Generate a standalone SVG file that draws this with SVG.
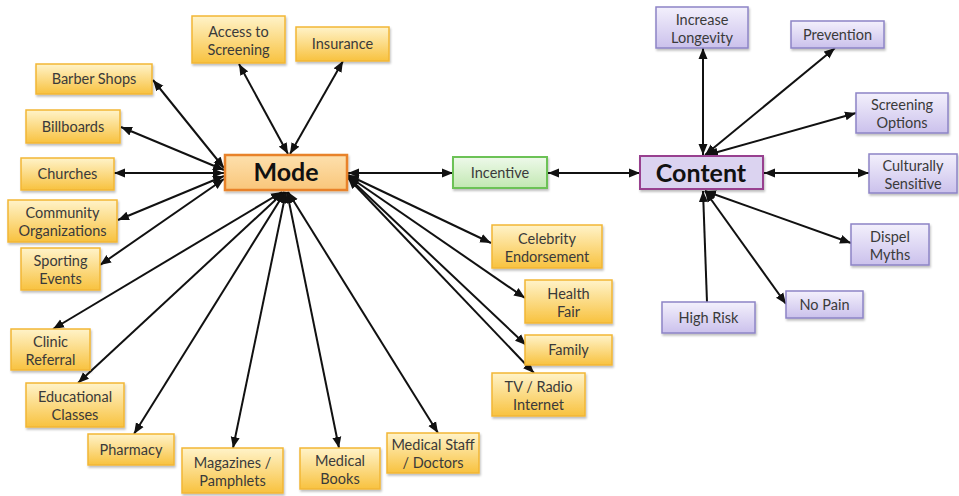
<svg xmlns="http://www.w3.org/2000/svg" width="959" height="496" viewBox="0 0 959 496">
<defs>
<linearGradient id="gy" x1="0" y1="0" x2="0" y2="1"><stop offset="0" stop-color="#fff3c9"/><stop offset="1" stop-color="#f8c23f"/></linearGradient>
<linearGradient id="gm" x1="0" y1="0" x2="0" y2="1"><stop offset="0" stop-color="#fde0ad"/><stop offset="1" stop-color="#f9c67a"/></linearGradient>
<linearGradient id="gg" x1="0" y1="0" x2="0" y2="1"><stop offset="0" stop-color="#eef9ea"/><stop offset="1" stop-color="#c2e8b2"/></linearGradient>
<linearGradient id="gp" x1="0" y1="0" x2="0" y2="1"><stop offset="0" stop-color="#f3f0fc"/><stop offset="1" stop-color="#cbc1ec"/></linearGradient>
<filter id="sh" x="-10%" y="-10%" width="130%" height="140%"><feDropShadow dx="1" dy="2" stdDeviation="1.2" flood-color="#000" flood-opacity="0.25"/></filter>
<marker id="ah" markerUnits="userSpaceOnUse" markerWidth="12" markerHeight="10" refX="11" refY="5" orient="auto-start-reverse"><path d="M0,0.5 L11,5 L0,9.5 z" fill="#111"/></marker>
</defs>
<style>
.y{fill:url(#gy);stroke:#f2b634;stroke-width:1.5;filter:url(#sh)}
.p{fill:url(#gp);stroke:#8d84c6;stroke-width:1.5;filter:url(#sh)}
.t{font-family:Lato,"Liberation Sans",sans-serif;font-size:14.5px;fill:#3a3a3a;text-anchor:middle}
.big{font-family:Lato,"Liberation Sans",sans-serif;font-size:25px;font-weight:bold;fill:#111;text-anchor:middle}
.c line{stroke:#111;stroke-width:2;marker-start:url(#ah);marker-end:url(#ah)}
</style>
<rect width="959" height="496" fill="#fff"/>
<g class="c" id="connectors">
<line x1="288" y1="154" x2="239" y2="64"/>
<line x1="290" y1="154" x2="343" y2="61"/>
<line x1="224" y1="168" x2="153" y2="80"/>
<line x1="224" y1="170" x2="121" y2="127"/>
<line x1="224" y1="173" x2="114" y2="173"/>
<line x1="224" y1="176" x2="118" y2="220"/>
<line x1="224" y1="179" x2="100" y2="265"/>
<line x1="282" y1="192" x2="53" y2="329"/>
<line x1="284" y1="192" x2="78" y2="383"/>
<line x1="285" y1="192" x2="134" y2="434"/>
<line x1="286" y1="192" x2="233" y2="448"/>
<line x1="287" y1="192" x2="339" y2="448"/>
<line x1="288" y1="192" x2="438" y2="433"/>
<line x1="348" y1="173" x2="453" y2="173"/>
<line x1="348" y1="175" x2="491" y2="243"/>
<line x1="348" y1="176" x2="525" y2="298"/>
<line x1="348" y1="177" x2="526" y2="345"/>
<line x1="348" y1="178" x2="534" y2="373"/>
<line x1="548" y1="173" x2="640" y2="173"/>
<line x1="764" y1="173" x2="869" y2="173"/>
<line x1="703" y1="155" x2="703" y2="48"/>
<line x1="705" y1="155" x2="835" y2="48"/>
<line x1="707" y1="155" x2="856" y2="113"/>
<line x1="705" y1="191" x2="851" y2="243"/>
<line x1="705" y1="191" x2="786" y2="304"/>
<line x1="707" y1="302" x2="703" y2="191" style="marker-start:none"/>
</g>
<g id="mode"><rect x="225" y="155" width="122" height="35" fill="url(#gm)" stroke="#e8822a" stroke-width="2.5" filter="url(#sh)"/><text class="big" x="286" y="181">Mode</text></g>
<g id="incentive"><rect x="453" y="157" width="94" height="31" fill="url(#gg)" stroke="#6cc256" stroke-width="2" filter="url(#sh)"/><text class="t" x="500" y="178">Incentive</text></g>
<g id="content"><rect x="640" y="156" width="123" height="33" fill="#dbd3f0" stroke="#98408f" stroke-width="2" filter="url(#sh)"/><text class="big" x="701" y="182">Content</text></g>
<g id="access"><rect class="y" x="192" y="16" width="93" height="47"/><text class="t" x="238.5" y="37">Access to</text><text class="t" x="238.5" y="55">Screening</text></g>
<g id="insurance"><rect class="y" x="296" y="27" width="93" height="34"/><text class="t" x="342.5" y="49">Insurance</text></g>
<g id="barber"><rect class="y" x="36" y="64" width="116" height="30"/><text class="t" x="94" y="84">Barber Shops</text></g>
<g id="billboards"><rect class="y" x="26" y="110" width="94" height="33"/><text class="t" x="73" y="131.5">Billboards</text></g>
<g id="churches"><rect class="y" x="21" y="158" width="93" height="32"/><text class="t" x="67.5" y="179">Churches</text></g>
<g id="community"><rect class="y" x="8" y="200" width="109" height="42"/><text class="t" x="62.5" y="218">Community</text><text class="t" x="62.5" y="236">Organizations</text></g>
<g id="sporting"><rect class="y" x="21" y="248" width="79" height="42"/><text class="t" x="60.5" y="266">Sporting</text><text class="t" x="60.5" y="284">Events</text></g>
<g id="clinic"><rect class="y" x="11" y="329" width="79" height="41"/><text class="t" x="50.5" y="346.5">Clinic</text><text class="t" x="50.5" y="364.5">Referral</text></g>
<g id="educational"><rect class="y" x="26" y="383" width="98" height="44"/><text class="t" x="75" y="402">Educational</text><text class="t" x="75" y="420">Classes</text></g>
<g id="pharmacy"><rect class="y" x="88" y="434" width="86" height="31"/><text class="t" x="131" y="454.5">Pharmacy</text></g>
<g id="magazines"><rect class="y" x="182" y="448" width="101" height="45"/><text class="t" x="232.5" y="467.5">Magazines /</text><text class="t" x="232.5" y="485.5">Pamphlets</text></g>
<g id="medbooks"><rect class="y" x="300" y="448" width="80" height="41"/><text class="t" x="340" y="465.5">Medical</text><text class="t" x="340" y="483.5">Books</text></g>
<g id="medstaff"><rect class="y" x="387" y="433" width="92" height="40"/><text class="t" x="433" y="450">Medical Staff</text><text class="t" x="433" y="468">/ Doctors</text></g>
<g id="celebrity"><rect class="y" x="492" y="225" width="110" height="43"/><text class="t" x="547" y="243.5">Celebrity</text><text class="t" x="547" y="261.5">Endorsement</text></g>
<g id="healthfair"><rect class="y" x="525" y="280" width="87" height="43"/><text class="t" x="568.5" y="298.5">Health</text><text class="t" x="568.5" y="316.5">Fair</text></g>
<g id="family"><rect class="y" x="525" y="335" width="87" height="30"/><text class="t" x="568.5" y="355">Family</text></g>
<g id="tv"><rect class="y" x="492" y="373" width="93" height="43"/><text class="t" x="538.5" y="391.5">TV / Radio</text><text class="t" x="538.5" y="409.5">Internet</text></g>
<g id="longevity"><rect class="p" x="656" y="7" width="92" height="41"/><text class="t" x="702" y="24.5">Increase</text><text class="t" x="702" y="42.5">Longevity</text></g>
<g id="prevention"><rect class="p" x="791" y="21" width="93" height="27"/><text class="t" x="837.5" y="39.5">Prevention</text></g>
<g id="screening"><rect class="p" x="856" y="93" width="92" height="40"/><text class="t" x="902" y="110">Screening</text><text class="t" x="902" y="128">Options</text></g>
<g id="cultural"><rect class="p" x="869" y="154" width="88" height="39"/><text class="t" x="913" y="170.5">Culturally</text><text class="t" x="913" y="188.5">Sensitive</text></g>
<g id="dispel"><rect class="p" x="851" y="224" width="78" height="41"/><text class="t" x="890" y="241.5">Dispel</text><text class="t" x="890" y="259.5">Myths</text></g>
<g id="nopain"><rect class="p" x="786" y="291" width="77" height="27"/><text class="t" x="824.5" y="309.5">No Pain</text></g>
<g id="highrisk"><rect class="p" x="662" y="302" width="93" height="31"/><text class="t" x="708.5" y="322.5">High Risk</text></g>
</svg>
